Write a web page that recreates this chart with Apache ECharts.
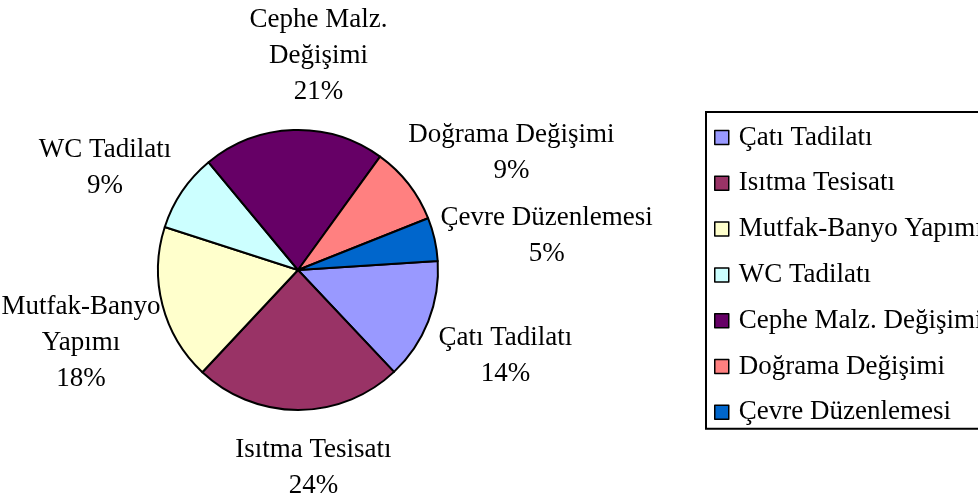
<!DOCTYPE html>
<html>
<head>
<meta charset="utf-8">
<script src="https://cdn.jsdelivr.net/npm/echarts@6/dist/echarts.min.js"></script>
<style>
html,body{margin:0;padding:0;background:#fff;}
#chart{width:978px;height:498px;}
</style>
</head>
<body>
<div id="chart"></div>
<script>
// ---- data ----
var categories = ['Çatı Tadilatı','Isıtma Tesisatı','Mutfak-Banyo Yapımı','WC Tadilatı','Cephe Malz. Değişimi','Doğrama Değişimi','Çevre Düzenlemesi'];
var labelNames = ['Çatı Tadilatı','Isıtma Tesisatı','Mutfak-Banyo\nYapımı','WC Tadilatı','Cephe Malz.\nDeğişimi','Doğrama Değişimi','Çevre Düzenlemesi'];
var values = [14, 24, 18, 9, 21, 9, 5];
var colors = ['#9999FF','#993366','#FFFFCC','#CCFFFF','#660066','#FF8080','#0066CC'];

// ---- layout (not data) ----
var CX = 298, CY = 270, R = 140, START = 3.7, GAP = 16;
var FONT = 'Liberation Serif', FS = 27, LH = 36;
// small manual nudges of the data labels, like hand-moved Excel labels
var labelNudge = [[0,16],[15,6],[11,20],[-9,6],[28,-4],[9,1],[-7,8]];

var total = values.reduce(function(a,b){return a+b;},0);
// label data: [mid cumulative value on the angle axis, index]
var labelData = [];
(function(){
  var cum = 0;
  for (var i=0;i<values.length;i++){ labelData.push([cum + values[i]/2, i]); cum += values[i]; }
})();

var mctx = document.createElement('canvas').getContext('2d');
mctx.font = FS + 'px "' + FONT + '"';
function labelText(i){ return labelNames[i] + '\n' + Math.round(values[i]/total*100) + '%'; }

var chart = echarts.init(document.getElementById('chart'), null, {renderer:'canvas'});
chart.setOption({
  backgroundColor:'#ffffff',
  animation:false,
  polar:{center:[CX,CY], radius:R},
  angleAxis:{type:'value', min:0, max:total, startAngle:START, clockwise:true, show:false},
  radiusAxis:{type:'value', min:0, max:R, show:false},
  legend:{
    orient:'vertical',
    left:706, top:112,
    padding:[12,40,3,8],
    borderColor:'#000', borderWidth:2,
    itemWidth:14, itemHeight:14, itemGap:18.8,
    icon:'rect',
    itemStyle:{borderColor:'#000', borderWidth:1.5},
    textStyle:{fontFamily:FONT, fontSize:FS, color:'#000', lineHeight:26, padding:[0,0,0,5]},
    data:categories
  },
  series:[{
    type:'pie',
    center:[CX,CY],
    radius:R,
    startAngle:START,
    clockwise:true,
    percentPrecision:0,
    label:{show:false},
    labelLine:{show:false},
    itemStyle:{borderColor:'#000', borderWidth:2},
    emphasis:{disabled:true},
    data:categories.map(function(c,i){
      return {name:c, value:values[i], itemStyle:{color:colors[i]}};
    })
  },{
    type:'custom',
    coordinateSystem:'polar',
    silent:true,
    data:labelData,
    renderItem:function(params, api){
      var ang = api.value(0), idx = api.value(1);
      var c = api.coord([0, ang]);
      var p = api.coord([R, ang]);
      var dx = (p[0]-c[0])/R, dy = (p[1]-c[1])/R;
      var txt = labelText(idx);
      var lines = txt.split('\n');
      var w = 0;
      lines.forEach(function(l){ w = Math.max(w, mctx.measureText(l).width); });
      var h = lines.length * LH;
      var nd = labelNudge[idx] || [0,0];
      var x = c[0] + dx*(R+GAP) + dx*w/2 + nd[0];
      var y = c[1] + dy*(R+GAP) + dy*h/2 + nd[1];
      return {
        type:'text',
        x:x, y:y,
        style:{text:txt, x:0, y:0, align:'center', verticalAlign:'middle',
               fontFamily:FONT, fontSize:FS, lineHeight:LH, fill:'#000'}
      };
    }
  }]
});
</script>
</body>
</html>
